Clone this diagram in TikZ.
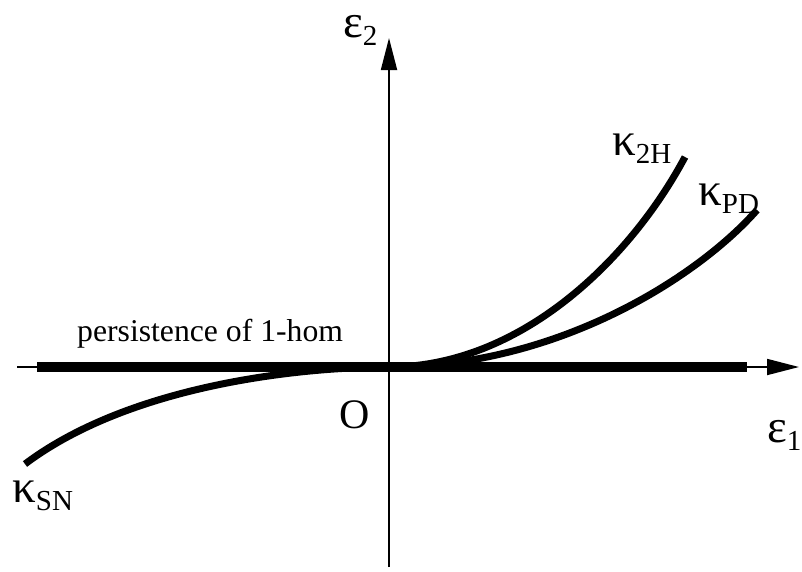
\documentclass[tikz,border=0pt]{standalone}
\usepackage{fontspec}
\setmainfont{Liberation Serif}
\usetikzlibrary{arrows.meta}
\newcommand{\subtxt}[1]{\raisebox{-8pt}{\fontsize{29}{30}\selectfont #1}}
\begin{document}
\begin{tikzpicture}[x=1pt,y=-1pt,
  axis/.style={line width=1.8pt,-{Triangle[length=32pt,width=16pt]}},
  branch/.style={line width=7pt},
  lbl/.style={inner sep=0pt,font=\fontsize{47}{50}\selectfont}]
\useasboundingbox (0,0) rectangle (802,571);
\coordinate (O) at (389,367);
\coordinate (xs) at (17,367);
\coordinate (xe) at (799,367);
\coordinate (ys) at (389,567);
\coordinate (ye) at (389,38);
\coordinate (ts) at (37,367);
\coordinate (te) at (747,367);
\coordinate (e2H) at (685,157);
\coordinate (ePD) at (757,210);
\coordinate (eSN) at (25,464);
% axes
\draw[axis] (xs) -- (xe);
\draw[axis] (ys) -- (ye);
% persistence line
\draw[line width=10pt] (ts) -- (te);
% branches
\draw[branch] (O) .. controls (520,367) and (630,260) .. (e2H);
\draw[branch] (O) .. controls (560,367) and (700,275) .. (ePD);
\draw[branch] (O) .. controls (300,367) and (130,385) .. (eSN);
% labels
\node[lbl,anchor=base west] (le2) at (343,37) {ε\subtxt{2}};
\node[lbl,anchor=base west] (le1) at (767,442) {ε\subtxt{1}};
\node[inner sep=0pt,anchor=base west,font=\fontsize{42}{44}\selectfont] (lO) at (339,428) {O};
\node[lbl,anchor=base west] (l2H) at (612,155) {κ\subtxt{2H}};
\node[lbl,anchor=base west] (lPD) at (698,205) {κ\subtxt{PD}};
\node[lbl,anchor=base west] (lSN) at (12,502) {κ\subtxt{SN}};
\node[inner sep=0pt,anchor=base west,font=\fontsize{31.7}{34}\selectfont] (lp) at (77,341) {persistence of 1-hom};
\end{tikzpicture}
\end{document}
